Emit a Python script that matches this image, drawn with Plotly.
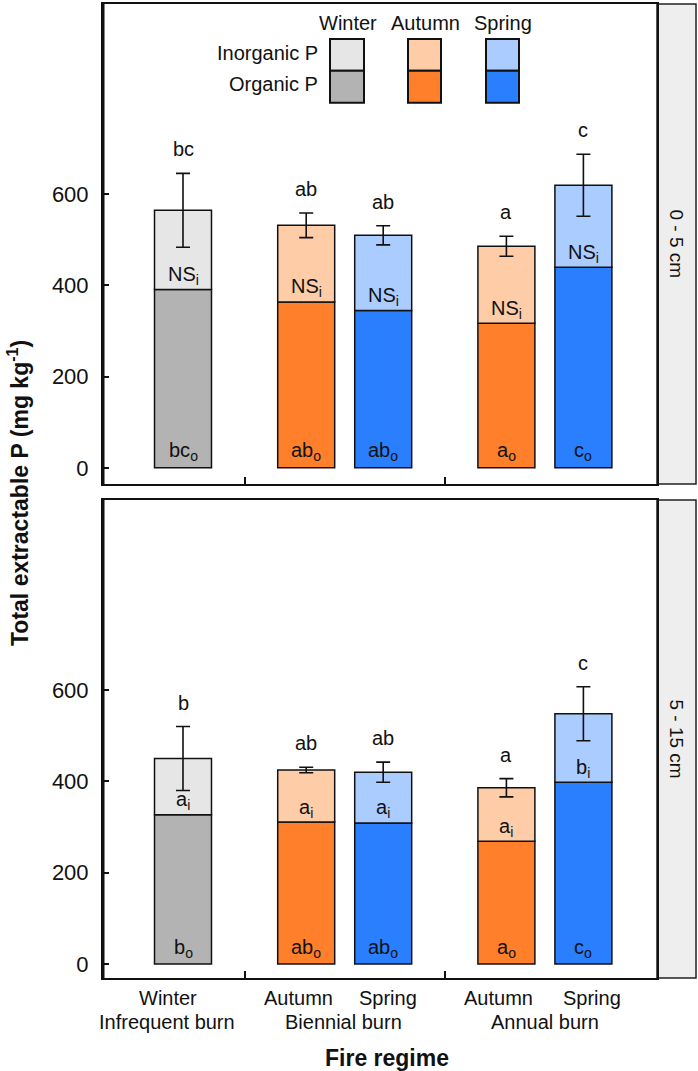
import plotly.graph_objects as go

# ---------------- data ----------------
seasons = ["Winter", "Autumn", "Spring", "Autumn", "Spring"]
regimes = ["Infrequent burn", "Biennial burn", "Biennial burn", "Annual burn", "Annual burn"]
depths = ["0 - 5 cm", "5 - 15 cm"]

top_total = [565, 532, 510, 486, 620]
top_organic = [391, 364, 345, 317, 440]
top_se = [81, 27, 21, 22, 68]
top_letters_total = ["bc", "ab", "ab", "a", "c"]
top_letters_inorg = ["NS", "NS", "NS", "NS", "NS"]
top_letters_org = ["bc", "ab", "ab", "a", "c"]

bot_total = [450, 425, 420, 386, 548]
bot_organic = [327, 311, 309, 269, 398]
bot_se = [70, 6, 22, 20, 59]
bot_letters_total = ["b", "ab", "ab", "a", "c"]
bot_letters_inorg = ["a", "a", "a", "a", "b"]
bot_letters_org = ["b", "ab", "ab", "a", "c"]

yticks = [0, 200, 400, 600]

# ---------------- style ----------------
FONT = "Liberation Sans, Arial, sans-serif"
FS = 20
organic_col = {"Winter": "#B3B3B3", "Autumn": "#FF7F2A", "Spring": "#2A7FFF"}
inorganic_col = {"Winter": "#E6E6E6", "Autumn": "#FFCCA8", "Spring": "#AACCFF"}

W, H = 698, 1071
ML, MR, MT, MB = 103, 41, 2, 93
PW, PH = W - ML - MR, H - MT - MB


def px_x(p):
    return (p - ML) / PW


def px_y(p):
    return (H - MB - p) / PH


def txt(size=FS):
    return dict(size=size, family=FONT, color="#111")


# x positions: consecutive bars, with an extra gap between fire regimes
group_order = []
for r in regimes:
    if r not in group_order:
        group_order.append(r)
gidx = [group_order.index(r) for r in regimes]
xpos = [i + 0.6 * g for i, g in enumerate(gidx)]
sep = [(xpos[i] + xpos[i + 1]) / 2 for i in range(len(xpos) - 1) if gidx[i] != gidx[i + 1]]
BW = 0.74

fig = go.Figure()

panels = [
    ("x", "y", top_total, top_organic, top_se, top_letters_total, top_letters_inorg, top_letters_org),
    ("x2", "y2", bot_total, bot_organic, bot_se, bot_letters_total, bot_letters_inorg, bot_letters_org),
]

annotations = []
for xa, ya, tot, org, se, lt, li, lo in panels:
    inorg = [t - o for t, o in zip(tot, org)]
    fig.add_trace(go.Bar(
        x=xpos, y=org, width=BW, xaxis=xa, yaxis=ya,
        marker=dict(color=[organic_col[s] for s in seasons], line=dict(color="#111", width=1.5)),
        showlegend=False, hoverinfo="skip"))
    fig.add_trace(go.Bar(
        x=xpos, y=inorg, base=org, width=BW, xaxis=xa, yaxis=ya,
        marker=dict(color=[inorganic_col[s] for s in seasons], line=dict(color="#111", width=1.5)),
        error_y=dict(type="data", array=se, color="#111", thickness=1.6, width=7),
        showlegend=False, hoverinfo="skip"))
    for i in range(len(xpos)):
        annotations.append(dict(x=xpos[i], y=tot[i] + se[i], xref=xa, yref=ya, text=lt[i],
                                showarrow=False, xanchor="center", yanchor="middle", yshift=24,
                                font=txt()))
        annotations.append(dict(x=xpos[i], y=org[i], xref=xa, yref=ya,
                                text=f"{li[i]}<sub>i</sub>",
                                showarrow=False, xanchor="center", yanchor="middle", yshift=14,
                                font=txt()))
        annotations.append(dict(x=xpos[i], y=0, xref=xa, yref=ya,
                                text=f"{lo[i]}<sub>o</sub>",
                                showarrow=False, xanchor="center", yanchor="middle", yshift=16,
                                font=txt()))

xr = [-1.039, -1.039 + PW / 77]
axis_common = dict(showline=True, mirror=True, linecolor="#111", linewidth=2,
                   showgrid=False, zeroline=False)
fig.update_layout(
    width=W, height=H, margin=dict(l=ML, r=MR, t=MT, b=MB),
    paper_bgcolor="white", plot_bgcolor="white",
    barmode="overlay", showlegend=False,
    font=dict(family=FONT, size=FS, color="#111"),
    xaxis=dict(domain=[0, 1], range=xr, anchor="y", tickvals=sep, showticklabels=False,
               ticks="inside", ticklen=7, tickwidth=1.5, tickcolor="#111", **axis_common),
    xaxis2=dict(domain=[0, 1], range=xr, anchor="y2", tickvals=sep, showticklabels=False,
                ticks="inside", ticklen=7, tickwidth=1.5, tickcolor="#111", **axis_common),
    yaxis=dict(domain=[px_y(483), 1.0], range=[-35.5, 1017.5], anchor="x", tickvals=yticks,
               ticks="inside", ticklen=6, tickwidth=1.5, tickcolor="#111",
               tickfont=txt(22), ticklabelstandoff=8, **axis_common),
    yaxis2=dict(domain=[0, px_y(499)], range=[-30.5, 1016], anchor="x2", tickvals=yticks,
                ticks="inside", ticklen=6, tickwidth=1.5, tickcolor="#111",
                tickfont=txt(22), ticklabelstandoff=8, **axis_common),
)

shapes = []
# thicker left axis lines
for y0, y1 in [(px_y(483), 1.0), (0, px_y(499))]:
    shapes.append(dict(type="line", xref="paper", yref="paper", x0=0, x1=0, y0=y0, y1=y1,
                       line=dict(color="#111", width=3)))

# facet strips
strip_x0, strip_x1 = 1.0, px_x(696)
for (y0, y1), lab in zip([(px_y(483), 1.0), (0, px_y(499))], depths):
    shapes.append(dict(type="rect", xref="paper", yref="paper", x0=strip_x0, x1=strip_x1,
                       y0=y0, y1=y1, fillcolor="#EEEEEE", line=dict(color="#222", width=1.5),
                       layer="below"))
    annotations.append(dict(x=(strip_x0 + strip_x1) / 2, y=(y0 + y1) / 2, xref="paper", yref="paper",
                            text=lab, textangle=90, showarrow=False,
                            xanchor="center", yanchor="middle", font=txt(19)))

# legend (drawn inside the top panel)
legend_seasons = ["Winter", "Autumn", "Spring"]
leg_x = [(330, 364), (408, 441), (486, 519)]
for s, (a, b) in zip(legend_seasons, leg_x):
    shapes.append(dict(type="rect", xref="paper", yref="paper", x0=px_x(a), x1=px_x(b),
                       y0=px_y(69), y1=px_y(37), fillcolor=inorganic_col[s],
                       line=dict(color="#111", width=2)))
    shapes.append(dict(type="rect", xref="paper", yref="paper", x0=px_x(a), x1=px_x(b),
                       y0=px_y(101), y1=px_y(69), fillcolor=organic_col[s],
                       line=dict(color="#111", width=2)))
    annotations.append(dict(x=px_x((a + b) / 2 + 1), y=px_y(21), xref="paper", yref="paper",
                            text=s, showarrow=False, xanchor="center", yanchor="middle",
                            font=txt()))
for lab, yy in [("Inorganic P", 51), ("Organic P", 82)]:
    annotations.append(dict(x=px_x(320), y=px_y(yy), xref="paper", yref="paper", text=lab,
                            showarrow=False, xanchor="right", yanchor="middle",
                            font=txt()))

# x category labels (season line, then regime line)
season_px = [168, 298, 388, 498, 592]
for s, p in zip(seasons, season_px):
    annotations.append(dict(x=px_x(p), y=px_y(998), xref="paper", yref="paper", text=s,
                            showarrow=False, xanchor="center", yanchor="middle",
                            font=txt()))
regime_px = {"Infrequent burn": 167, "Biennial burn": 343, "Annual burn": 545}
for r in group_order:
    annotations.append(dict(x=px_x(regime_px[r]), y=px_y(1022), xref="paper", yref="paper", text=r,
                            showarrow=False, xanchor="center", yanchor="middle",
                            font=txt()))

# axis titles
annotations.append(dict(x=px_x(387), y=px_y(1058), xref="paper", yref="paper",
                        text="<b>Fire regime</b>", showarrow=False,
                        xanchor="center", yanchor="middle", font=txt(23)))
annotations.append(dict(x=px_x(18), y=px_y(492), xref="paper", yref="paper",
                        text="<b>Total extractable P (mg kg<sup>-1</sup>)</b>", textangle=-90,
                        showarrow=False, xanchor="center", yanchor="middle",
                        font=txt(23)))

fig.update_layout(shapes=shapes, annotations=annotations)
fig.write_html("out.html")
